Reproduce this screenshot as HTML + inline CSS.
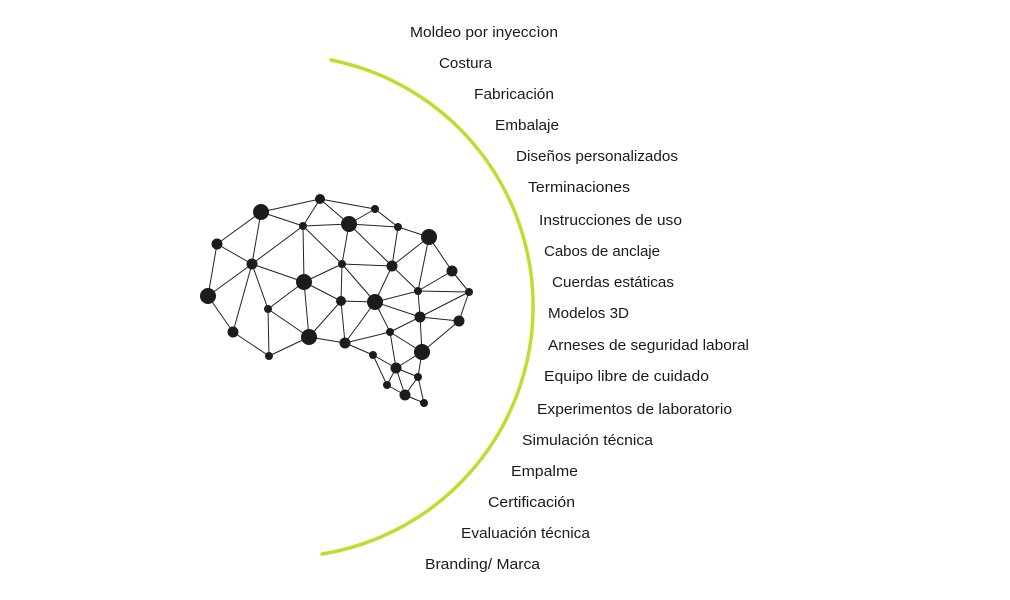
<!DOCTYPE html>
<html><head><meta charset="utf-8">
<style>
html,body{margin:0;padding:0;background:#fff;}
svg{display:block;}
text{font-family:"Liberation Sans",sans-serif;font-size:14.5px;fill:#1a1a1a;}
</style></head>
<body>
<svg width="1010" height="600" viewBox="0 0 1010 600" xmlns="http://www.w3.org/2000/svg">
<path d="M331,60 A251,251 0 0 1 322,554" fill="none" stroke="#c5da2e" stroke-width="3.5" stroke-linecap="round"/>
<g stroke="#222" stroke-width="1">
<line x1="261" y1="212" x2="320" y2="199"/>
<line x1="261" y1="212" x2="303" y2="226"/>
<line x1="261" y1="212" x2="217" y2="244"/>
<line x1="261" y1="212" x2="252" y2="264"/>
<line x1="320" y1="199" x2="303" y2="226"/>
<line x1="320" y1="199" x2="349" y2="224"/>
<line x1="320" y1="199" x2="375" y2="209"/>
<line x1="375" y1="209" x2="349" y2="224"/>
<line x1="375" y1="209" x2="398" y2="227"/>
<line x1="303" y1="226" x2="349" y2="224"/>
<line x1="349" y1="224" x2="398" y2="227"/>
<line x1="349" y1="224" x2="342" y2="264"/>
<line x1="349" y1="224" x2="392" y2="266"/>
<line x1="398" y1="227" x2="429" y2="237"/>
<line x1="398" y1="227" x2="392" y2="266"/>
<line x1="429" y1="237" x2="392" y2="266"/>
<line x1="429" y1="237" x2="452" y2="271"/>
<line x1="429" y1="237" x2="418" y2="291"/>
<line x1="217" y1="244" x2="252" y2="264"/>
<line x1="217" y1="244" x2="208" y2="296"/>
<line x1="252" y1="264" x2="303" y2="226"/>
<line x1="252" y1="264" x2="208" y2="296"/>
<line x1="252" y1="264" x2="304" y2="282"/>
<line x1="252" y1="264" x2="268" y2="309"/>
<line x1="252" y1="264" x2="233" y2="332"/>
<line x1="303" y1="226" x2="304" y2="282"/>
<line x1="303" y1="226" x2="342" y2="264"/>
<line x1="342" y1="264" x2="304" y2="282"/>
<line x1="342" y1="264" x2="392" y2="266"/>
<line x1="342" y1="264" x2="341" y2="301"/>
<line x1="342" y1="264" x2="375" y2="302"/>
<line x1="392" y1="266" x2="375" y2="302"/>
<line x1="392" y1="266" x2="418" y2="291"/>
<line x1="452" y1="271" x2="469" y2="292"/>
<line x1="452" y1="271" x2="418" y2="291"/>
<line x1="418" y1="291" x2="375" y2="302"/>
<line x1="418" y1="291" x2="469" y2="292"/>
<line x1="418" y1="291" x2="420" y2="317"/>
<line x1="304" y1="282" x2="341" y2="301"/>
<line x1="304" y1="282" x2="309" y2="337"/>
<line x1="304" y1="282" x2="268" y2="309"/>
<line x1="208" y1="296" x2="233" y2="332"/>
<line x1="268" y1="309" x2="269" y2="356"/>
<line x1="268" y1="309" x2="309" y2="337"/>
<line x1="233" y1="332" x2="269" y2="356"/>
<line x1="269" y1="356" x2="309" y2="337"/>
<line x1="309" y1="337" x2="341" y2="301"/>
<line x1="309" y1="337" x2="345" y2="343"/>
<line x1="341" y1="301" x2="345" y2="343"/>
<line x1="341" y1="301" x2="375" y2="302"/>
<line x1="375" y1="302" x2="345" y2="343"/>
<line x1="375" y1="302" x2="390" y2="332"/>
<line x1="375" y1="302" x2="420" y2="317"/>
<line x1="420" y1="317" x2="469" y2="292"/>
<line x1="420" y1="317" x2="459" y2="321"/>
<line x1="420" y1="317" x2="390" y2="332"/>
<line x1="420" y1="317" x2="422" y2="352"/>
<line x1="469" y1="292" x2="459" y2="321"/>
<line x1="390" y1="332" x2="345" y2="343"/>
<line x1="390" y1="332" x2="396" y2="368"/>
<line x1="390" y1="332" x2="422" y2="352"/>
<line x1="345" y1="343" x2="373" y2="355"/>
<line x1="373" y1="355" x2="396" y2="368"/>
<line x1="373" y1="355" x2="387" y2="385"/>
<line x1="396" y1="368" x2="422" y2="352"/>
<line x1="396" y1="368" x2="418" y2="377"/>
<line x1="396" y1="368" x2="405" y2="395"/>
<line x1="396" y1="368" x2="387" y2="385"/>
<line x1="422" y1="352" x2="418" y2="377"/>
<line x1="422" y1="352" x2="459" y2="321"/>
<line x1="418" y1="377" x2="405" y2="395"/>
<line x1="418" y1="377" x2="424" y2="403"/>
<line x1="387" y1="385" x2="405" y2="395"/>
<line x1="405" y1="395" x2="424" y2="403"/>
</g>
<g fill="#1c1c1c">
<circle cx="261" cy="212" r="8"/>
<circle cx="320" cy="199" r="5"/>
<circle cx="375" cy="209" r="4"/>
<circle cx="349" cy="224" r="8"/>
<circle cx="303" cy="226" r="4"/>
<circle cx="398" cy="227" r="4"/>
<circle cx="429" cy="237" r="8"/>
<circle cx="217" cy="244" r="5.5"/>
<circle cx="252" cy="264" r="5.5"/>
<circle cx="342" cy="264" r="4"/>
<circle cx="392" cy="266" r="5.5"/>
<circle cx="452" cy="271" r="5.5"/>
<circle cx="304" cy="282" r="8"/>
<circle cx="208" cy="296" r="8"/>
<circle cx="418" cy="291" r="4"/>
<circle cx="469" cy="292" r="4"/>
<circle cx="341" cy="301" r="5"/>
<circle cx="375" cy="302" r="8"/>
<circle cx="268" cy="309" r="4"/>
<circle cx="420" cy="317" r="5.5"/>
<circle cx="459" cy="321" r="5.5"/>
<circle cx="233" cy="332" r="5.5"/>
<circle cx="309" cy="337" r="8"/>
<circle cx="390" cy="332" r="4"/>
<circle cx="345" cy="343" r="5.5"/>
<circle cx="422" cy="352" r="8"/>
<circle cx="269" cy="356" r="4"/>
<circle cx="373" cy="355" r="4"/>
<circle cx="396" cy="368" r="5.5"/>
<circle cx="418" cy="377" r="4"/>
<circle cx="387" cy="385" r="4"/>
<circle cx="405" cy="395" r="5.5"/>
<circle cx="424" cy="403" r="4"/>
</g>
<text x="410" y="37" textLength="148" lengthAdjust="spacingAndGlyphs">Moldeo por inyeccìon</text>
<text x="439" y="68" textLength="53" lengthAdjust="spacingAndGlyphs">Costura</text>
<text x="474" y="99" textLength="80" lengthAdjust="spacingAndGlyphs">Fabricación</text>
<text x="495" y="130" textLength="64" lengthAdjust="spacingAndGlyphs">Embalaje</text>
<text x="516" y="161" textLength="162" lengthAdjust="spacingAndGlyphs">Diseños personalizados</text>
<text x="528" y="192" textLength="102" lengthAdjust="spacingAndGlyphs">Terminaciones</text>
<text x="539" y="225" textLength="143" lengthAdjust="spacingAndGlyphs">Instrucciones de uso</text>
<text x="544" y="256" textLength="116" lengthAdjust="spacingAndGlyphs">Cabos de anclaje</text>
<text x="552" y="287" textLength="122" lengthAdjust="spacingAndGlyphs">Cuerdas estáticas</text>
<text x="548" y="318" textLength="81" lengthAdjust="spacingAndGlyphs">Modelos 3D</text>
<text x="548" y="350" textLength="201" lengthAdjust="spacingAndGlyphs">Arneses de seguridad laboral</text>
<text x="544" y="381" textLength="165" lengthAdjust="spacingAndGlyphs">Equipo libre de cuidado</text>
<text x="537" y="414" textLength="195" lengthAdjust="spacingAndGlyphs">Experimentos de laboratorio</text>
<text x="522" y="445" textLength="131" lengthAdjust="spacingAndGlyphs">Simulación técnica</text>
<text x="511" y="476" textLength="67" lengthAdjust="spacingAndGlyphs">Empalme</text>
<text x="488" y="507" textLength="87" lengthAdjust="spacingAndGlyphs">Certificación</text>
<text x="461" y="538" textLength="129" lengthAdjust="spacingAndGlyphs">Evaluación técnica</text>
<text x="425" y="569" textLength="115" lengthAdjust="spacingAndGlyphs">Branding/ Marca</text>
</svg>
</body></html>
